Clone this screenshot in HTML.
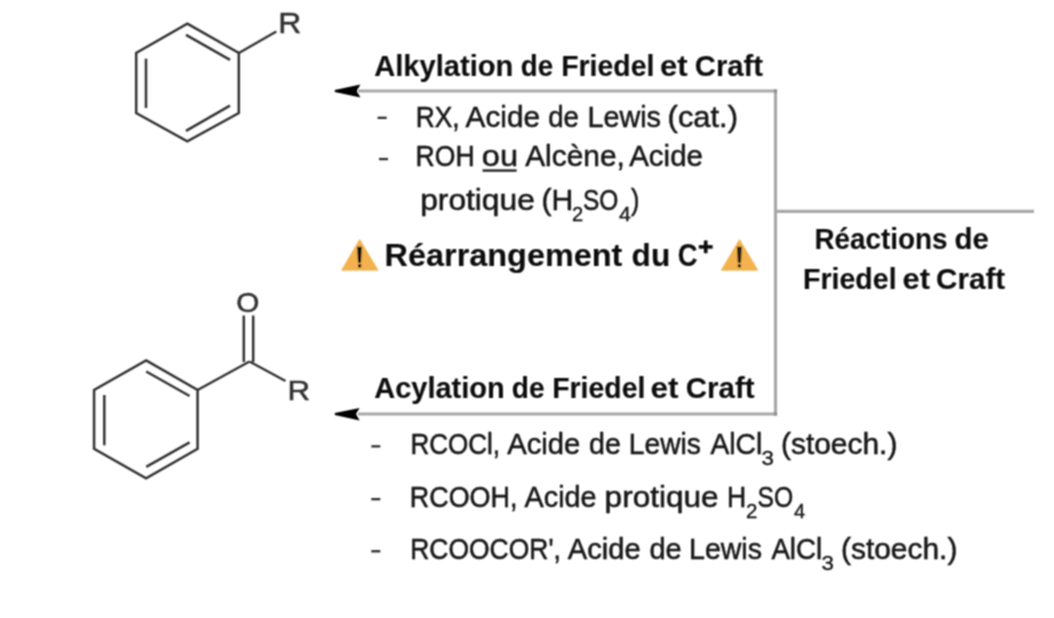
<!DOCTYPE html>
<html><head><meta charset="utf-8">
<style>
html,body{margin:0;padding:0;background:#fff;width:1054px;height:618px;overflow:hidden}
svg{display:block}
text{font-family:"Liberation Sans",sans-serif}
</style></head>
<body>
<svg width="1054" height="618" viewBox="0 0 1054 618">
<defs><filter id="bl" x="-5%" y="-5%" width="110%" height="110%"><feConvolveMatrix order="3" kernelMatrix="1 2 1 2 4 2 1 2 1" divisor="16" edgeMode="none"/></filter></defs>
<rect width="1054" height="618" fill="#fff"/>
<g filter="url(#bl)">
<g id="shapes">
<g stroke="#333" stroke-width="2.5" fill="none" stroke-linejoin="miter">
<polygon points="187.3,23.6 238.8,53 238.8,113 187.3,141.4 136.2,113 136.2,53"/>
<line x1="238.9" y1="53" x2="276.3" y2="31.5"/>
<line x1="186" y1="34.8" x2="230" y2="59.9"/>
<line x1="146" y1="58.7" x2="146" y2="108"/>
<line x1="186" y1="130.8" x2="230" y2="105.7"/>
</g>
<text transform="translate(278.3,33.3) scale(1.1,1)" font-size="29" fill="#333" stroke="#333" stroke-width="0.5">R</text>
<g stroke="#333" stroke-width="2.5" fill="none">
<polygon points="146.1,360.4 197.6,390 197.6,448.8 146.1,478.4 94.1,448.8 94.1,390"/>
<line x1="197.6" y1="390" x2="249.5" y2="361.5"/>
<line x1="249.5" y1="361.5" x2="285.5" y2="381"/>
<line x1="243.8" y1="362" x2="243.8" y2="315.5"/>
<line x1="253.2" y1="362" x2="253.2" y2="315.5"/>
<line x1="146.2" y1="371.5" x2="189.6" y2="396"/>
<line x1="104.3" y1="395" x2="104.3" y2="445.3"/>
<line x1="146.2" y1="466.8" x2="189.6" y2="442.4"/>
</g>
<text transform="translate(287.6,399.7) scale(1.1,1)" font-size="28.5" fill="#333" stroke="#333" stroke-width="0.5">R</text>
<text transform="translate(236.2,312.2) scale(1.08,1)" font-size="27.5" fill="#333" stroke="#333" stroke-width="0.5">O</text>
<g stroke="#a8a8a8" stroke-width="3.2" fill="none">
<polyline points="358,91 775.5,91 775.5,414 358,414"/>
<line x1="775.5" y1="211.4" x2="1034" y2="211.4"/>
</g>
<rect x="773.9" y="89.4" width="3.2" height="3.2" fill="#8c8c8c"/>
<rect x="773.9" y="412.4" width="3.2" height="3.2" fill="#8c8c8c"/>
<path d="M334.8,90 L360.4,84.5 L356.8,91 L360.4,97.4 L334.8,92 Z" fill="#000"/>
<path d="M334.8,413 L359.6,407.9 L356,414 L359.6,420.4 L334.8,415 Z" fill="#000"/>
<g fill="#2a2a2a">
<rect x="377.6" y="116.7" width="9" height="2.3"/>
<rect x="379" y="157.9" width="9" height="2.3"/>
<rect x="371.3" y="445.2" width="9" height="2.3"/>
<rect x="371.3" y="498" width="9" height="2.3"/>
<rect x="371.3" y="550.1" width="9" height="2.3"/>
<rect x="482.6" y="169.3" width="34" height="2.5"/>
</g>
<g>
<path d="M359.7,239.5 L378,270.2 L341.6,270.2 Z" fill="#F3B24E" stroke="#F3B24E" stroke-width="0.8" stroke-linejoin="round"/>
<path d="M357.2,246.8 L361.8,246.8 L361,262.8 L358,262.8 Z" fill="#111"/>
<rect x="358" y="264.2" width="3.2" height="3.2" fill="#111"/>
<path d="M739.5,239.6 L757.8,270.2 L721.3,270.2 Z" fill="#F3B24E" stroke="#F3B24E" stroke-width="0.8" stroke-linejoin="round"/>
<path d="M736.9,246.8 L741.8,246.8 L741,262.8 L737.8,262.8 Z" fill="#2a2010"/>
<rect x="737.8" y="264.2" width="3.2" height="3.2" fill="#2a2010"/>
</g>
<g fill="#0a0a0a">
<rect x="698.8" y="245.1" width="13.8" height="3.6"/>
<rect x="703.9" y="240.5" width="3.6" height="12.7"/>
</g>
</g>
<g id="words">
<text id="w0" x="374.20" y="75.8" textLength="139.20" lengthAdjust="spacingAndGlyphs" font-size="30" font-weight="bold" fill="#0d0d0d" stroke="#0d0d0d" stroke-width="0.1">Alkylation</text>
<text id="w1" x="520.80" y="75.8" textLength="32.40" lengthAdjust="spacingAndGlyphs" font-size="30" font-weight="bold" fill="#0d0d0d" stroke="#0d0d0d" stroke-width="0.1">de</text>
<text id="w2" x="561.20" y="75.8" textLength="93.20" lengthAdjust="spacingAndGlyphs" font-size="30" font-weight="bold" fill="#0d0d0d" stroke="#0d0d0d" stroke-width="0.1">Friedel</text>
<text id="w3" x="660.00" y="75.8" textLength="27.60" lengthAdjust="spacingAndGlyphs" font-size="30" font-weight="bold" fill="#0d0d0d" stroke="#0d0d0d" stroke-width="0.1">et</text>
<text id="w4" x="694.80" y="75.8" textLength="68.20" lengthAdjust="spacingAndGlyphs" font-size="30" font-weight="bold" fill="#0d0d0d" stroke="#0d0d0d" stroke-width="0.1">Craft</text>
<text id="w5" x="415.80" y="126.6" textLength="43.80" lengthAdjust="spacingAndGlyphs" font-size="29" fill="#151515" stroke="#151515" stroke-width="0.5">RX,</text>
<text id="w6" x="465.60" y="126.6" textLength="74.40" lengthAdjust="spacingAndGlyphs" font-size="29" fill="#151515" stroke="#151515" stroke-width="0.5">Acide</text>
<text id="w7" x="548.20" y="126.6" textLength="30.80" lengthAdjust="spacingAndGlyphs" font-size="29" fill="#151515" stroke="#151515" stroke-width="0.5">de</text>
<text id="w8" x="587.40" y="126.6" textLength="73.60" lengthAdjust="spacingAndGlyphs" font-size="29" fill="#151515" stroke="#151515" stroke-width="0.5">Lewis</text>
<text id="w9" x="667.60" y="126.6" textLength="70.40" lengthAdjust="spacingAndGlyphs" font-size="29" fill="#151515" stroke="#151515" stroke-width="0.5">(cat.)</text>
<text id="w10" x="415.60" y="166.2" textLength="59.00" lengthAdjust="spacingAndGlyphs" font-size="29" fill="#151515" stroke="#151515" stroke-width="0.5">ROH</text>
<text id="w11" x="481.80" y="166.2" textLength="36.20" lengthAdjust="spacingAndGlyphs" font-size="29" fill="#151515" stroke="#151515" stroke-width="0.5">ou</text>
<text id="w12" x="525.20" y="166.2" textLength="99.60" lengthAdjust="spacingAndGlyphs" font-size="29" fill="#151515" stroke="#151515" stroke-width="0.5">Alcène,</text>
<text id="w13" x="629.20" y="166.2" textLength="73.80" lengthAdjust="spacingAndGlyphs" font-size="29" fill="#151515" stroke="#151515" stroke-width="0.5">Acide</text>
<text id="w14" x="420.20" y="209.6" textLength="114.60" lengthAdjust="spacingAndGlyphs" font-size="29" fill="#151515" stroke="#151515" stroke-width="0.5">protique</text>
<text id="w15" x="541.40" y="209.6" textLength="31.80" lengthAdjust="spacingAndGlyphs" font-size="29" fill="#151515" stroke="#151515" stroke-width="0.5">(H</text>
<text id="w16" x="572.00" y="221.2" textLength="11.20" lengthAdjust="spacingAndGlyphs" font-size="20" fill="#151515" stroke="#151515" stroke-width="0.3">2</text>
<text id="w17" x="583.00" y="209.6" textLength="35.40" lengthAdjust="spacingAndGlyphs" font-size="29" fill="#151515" stroke="#151515" stroke-width="0.5">SO</text>
<text id="w18" x="619.00" y="221.2" textLength="11.80" lengthAdjust="spacingAndGlyphs" font-size="20" fill="#151515" stroke="#151515" stroke-width="0.3">4</text>
<text id="w19" x="631.00" y="209.6" textLength="8.40" lengthAdjust="spacingAndGlyphs" font-size="29" fill="#151515" stroke="#151515" stroke-width="0.5">)</text>
<text id="w20" x="384.60" y="266" textLength="237.80" lengthAdjust="spacingAndGlyphs" font-size="32" font-weight="bold" fill="#0d0d0d" stroke="#0d0d0d" stroke-width="0.1">Réarrangement</text>
<text id="w21" x="631.60" y="266" textLength="38.60" lengthAdjust="spacingAndGlyphs" font-size="32" font-weight="bold" fill="#0d0d0d" stroke="#0d0d0d" stroke-width="0.1">du</text>
<text id="w22" x="677.80" y="266" textLength="19.80" lengthAdjust="spacingAndGlyphs" font-size="32" font-weight="bold" fill="#0d0d0d" stroke="#0d0d0d" stroke-width="0.1">C</text>
<text id="w23" x="814.40" y="249" textLength="133.00" lengthAdjust="spacingAndGlyphs" font-size="30" font-weight="bold" fill="#0d0d0d" stroke="#0d0d0d" stroke-width="0.1">Réactions</text>
<text id="w24" x="954.40" y="249" textLength="34.40" lengthAdjust="spacingAndGlyphs" font-size="30" font-weight="bold" fill="#0d0d0d" stroke="#0d0d0d" stroke-width="0.1">de</text>
<text id="w25" x="803.00" y="288.7" textLength="93.60" lengthAdjust="spacingAndGlyphs" font-size="30" font-weight="bold" fill="#0d0d0d" stroke="#0d0d0d" stroke-width="0.1">Friedel</text>
<text id="w26" x="902.60" y="288.7" textLength="27.40" lengthAdjust="spacingAndGlyphs" font-size="30" font-weight="bold" fill="#0d0d0d" stroke="#0d0d0d" stroke-width="0.1">et</text>
<text id="w27" x="936.00" y="288.7" textLength="69.20" lengthAdjust="spacingAndGlyphs" font-size="30" font-weight="bold" fill="#0d0d0d" stroke="#0d0d0d" stroke-width="0.1">Craft</text>
<text id="w28" x="374.20" y="397.7" textLength="130.60" lengthAdjust="spacingAndGlyphs" font-size="30" font-weight="bold" fill="#0d0d0d" stroke="#0d0d0d" stroke-width="0.1">Acylation</text>
<text id="w29" x="511.80" y="397.7" textLength="32.80" lengthAdjust="spacingAndGlyphs" font-size="30" font-weight="bold" fill="#0d0d0d" stroke="#0d0d0d" stroke-width="0.1">de</text>
<text id="w30" x="552.20" y="397.7" textLength="93.20" lengthAdjust="spacingAndGlyphs" font-size="30" font-weight="bold" fill="#0d0d0d" stroke="#0d0d0d" stroke-width="0.1">Friedel</text>
<text id="w31" x="650.60" y="397.7" textLength="28.00" lengthAdjust="spacingAndGlyphs" font-size="30" font-weight="bold" fill="#0d0d0d" stroke="#0d0d0d" stroke-width="0.1">et</text>
<text id="w32" x="685.80" y="397.7" textLength="68.80" lengthAdjust="spacingAndGlyphs" font-size="30" font-weight="bold" fill="#0d0d0d" stroke="#0d0d0d" stroke-width="0.1">Craft</text>
<text id="w33" x="410.40" y="454.3" textLength="89.60" lengthAdjust="spacingAndGlyphs" font-size="29" fill="#151515" stroke="#151515" stroke-width="0.5">RCOCl,</text>
<text id="w34" x="507.20" y="454.3" textLength="73.20" lengthAdjust="spacingAndGlyphs" font-size="29" fill="#151515" stroke="#151515" stroke-width="0.5">Acide</text>
<text id="w35" x="589.00" y="454.3" textLength="31.80" lengthAdjust="spacingAndGlyphs" font-size="29" fill="#151515" stroke="#151515" stroke-width="0.5">de</text>
<text id="w36" x="628.80" y="454.3" textLength="72.20" lengthAdjust="spacingAndGlyphs" font-size="29" fill="#151515" stroke="#151515" stroke-width="0.5">Lewis</text>
<text id="w37" x="710.40" y="454.3" textLength="51.80" lengthAdjust="spacingAndGlyphs" font-size="29" fill="#151515" stroke="#151515" stroke-width="0.5">AlCl</text>
<text id="w38" x="761.60" y="465" textLength="12.40" lengthAdjust="spacingAndGlyphs" font-size="20" fill="#151515" stroke="#151515" stroke-width="0.3">3</text>
<text id="w39" x="781.00" y="454.3" textLength="116.40" lengthAdjust="spacingAndGlyphs" font-size="29" fill="#151515" stroke="#151515" stroke-width="0.5">(stoech.)</text>
<text id="w40" x="409.80" y="507.3" textLength="107.60" lengthAdjust="spacingAndGlyphs" font-size="29" fill="#151515" stroke="#151515" stroke-width="0.5">RCOOH,</text>
<text id="w41" x="524.60" y="507.3" textLength="72.00" lengthAdjust="spacingAndGlyphs" font-size="29" fill="#151515" stroke="#151515" stroke-width="0.5">Acide</text>
<text id="w42" x="604.60" y="507.3" textLength="114.00" lengthAdjust="spacingAndGlyphs" font-size="29" fill="#151515" stroke="#151515" stroke-width="0.5">protique</text>
<text id="w43" x="727.00" y="507.3" textLength="19.20" lengthAdjust="spacingAndGlyphs" font-size="29" fill="#151515" stroke="#151515" stroke-width="0.5">H</text>
<text id="w44" x="746.00" y="518.2" textLength="11.40" lengthAdjust="spacingAndGlyphs" font-size="20" fill="#151515" stroke="#151515" stroke-width="0.3">2</text>
<text id="w45" x="757.60" y="507.3" textLength="35.60" lengthAdjust="spacingAndGlyphs" font-size="29" fill="#151515" stroke="#151515" stroke-width="0.5">SO</text>
<text id="w46" x="794.00" y="518.2" textLength="11.20" lengthAdjust="spacingAndGlyphs" font-size="20" fill="#151515" stroke="#151515" stroke-width="0.3">4</text>
<text id="w47" x="410.20" y="559.2" textLength="150.60" lengthAdjust="spacingAndGlyphs" font-size="29" fill="#151515" stroke="#151515" stroke-width="0.5">RCOOCOR&#x27;,</text>
<text id="w48" x="567.80" y="559.2" textLength="72.80" lengthAdjust="spacingAndGlyphs" font-size="29" fill="#151515" stroke="#151515" stroke-width="0.5">Acide</text>
<text id="w49" x="649.40" y="559.2" textLength="32.20" lengthAdjust="spacingAndGlyphs" font-size="29" fill="#151515" stroke="#151515" stroke-width="0.5">de</text>
<text id="w50" x="689.00" y="559.2" textLength="73.00" lengthAdjust="spacingAndGlyphs" font-size="29" fill="#151515" stroke="#151515" stroke-width="0.5">Lewis</text>
<text id="w51" x="771.40" y="559.2" textLength="50.80" lengthAdjust="spacingAndGlyphs" font-size="29" fill="#151515" stroke="#151515" stroke-width="0.5">AlCl</text>
<text id="w52" x="821.60" y="570" textLength="12.40" lengthAdjust="spacingAndGlyphs" font-size="20" fill="#151515" stroke="#151515" stroke-width="0.3">3</text>
<text id="w53" x="841.00" y="559.2" textLength="116.40" lengthAdjust="spacingAndGlyphs" font-size="29" fill="#151515" stroke="#151515" stroke-width="0.5">(stoech.)</text>
</g>
</g>
</svg>
</body></html>
